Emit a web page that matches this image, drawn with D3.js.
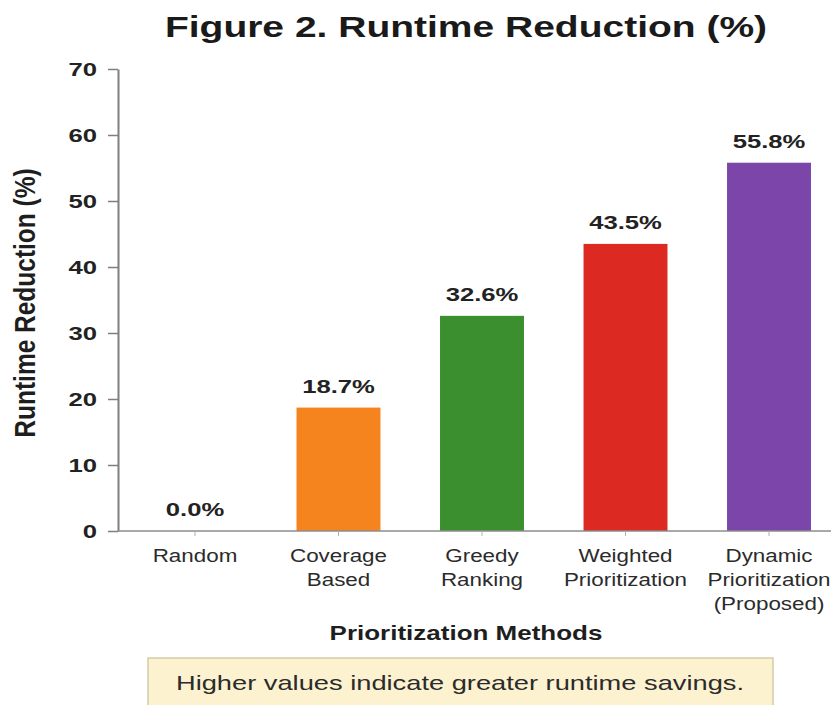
<!DOCTYPE html>
<html>
<head>
<meta charset="utf-8">
<script src="https://cdn.jsdelivr.net/npm/d3@7"></script>
<style>
  html, body { margin: 0; padding: 0; background: #ffffff; }
  svg { display: block; }
</style>
</head>
<body>
<svg id="chart" width="831" height="705"></svg>
<script>
// ---- data ----
const categories = ["Random", "Coverage Based", "Greedy Ranking", "Weighted Prioritization", "Dynamic Prioritization (Proposed)"];
const categoryLines = [["Random"], ["Coverage", "Based"], ["Greedy", "Ranking"], ["Weighted", "Prioritization"], ["Dynamic", "Prioritization", "(Proposed)"]];
const reductionPct = [0.0, 18.7, 32.6, 43.5, 55.8];
const barColors = ["#6fa8dc", "#f5841f", "#3b8f2e", "#dc2a23", "#7b45a9"];
const yTicks = [0, 10, 20, 30, 40, 50, 60, 70];
const titleText = "Figure 2. Runtime Reduction (%)";
const xTitleText = "Prioritization Methods";
const yTitleText = "Runtime Reduction (%)";
const noteText = "Higher values indicate greater runtime savings.";

// ---- layout ----
const W = 831, H = 705;
const SX = 1.35;               // wide lettering used throughout the figure
const FONT = "'Liberation Sans', Arial, Helvetica, sans-serif";
const axisX = 118, baseY = 531, topY = 69;

const svg = d3.select("#chart");

const y = d3.scaleLinear().domain([0, 70]).range([baseY, topY]);
const x = d3.scaleBand().domain(categories).range([axisX, 846])
  .paddingInner(0.415).paddingOuter(0.244);

// text drawn with a horizontal stretch around its anchor
function wideText(parent, px, py, str, opts) {
  return parent.append("text")
    .attr("transform", `translate(${px},${py}) scale(${opts.sx || SX},1)`)
    .attr("text-anchor", opts.anchor || "middle")
    .attr("font-family", FONT)
    .attr("font-size", opts.size)
    .attr("font-weight", opts.weight || "normal")
    .attr("fill", opts.fill || "#222")
    .text(str);
}

// title
wideText(svg, 466, 37, titleText, { size: 30, sx: 1.3, weight: "bold", fill: "#1a1a1a" });

// bars
const data = categories.map((c, i) => ({ c, v: reductionPct[i], color: barColors[i], lines: categoryLines[i] }));

svg.append("g").selectAll("rect").data(data).join("rect")
  .attr("x", d => x(d.c))
  .attr("y", d => y(d.v))
  .attr("width", x.bandwidth())
  .attr("height", d => y(0) - y(d.v))
  .attr("fill", d => d.color);

// value labels above bars
const labels = svg.append("g");
data.forEach(d => {
  wideText(labels, x(d.c) + x.bandwidth() / 2, y(d.v) - 15, d.v.toFixed(1) + "%",
    { size: 19, weight: "bold", fill: "#222" });
});

// y axis
const yAxis = svg.append("g")
  .attr("transform", `translate(${axisX},0)`)
  .call(d3.axisLeft(y).tickValues(yTicks).tickSize(10).tickSizeOuter(0).tickFormat(d3.format("d")));
yAxis.select(".domain").attr("stroke", "#7f7f7f").attr("stroke-width", 2);
yAxis.selectAll(".tick line").attr("stroke", "#7f7f7f").attr("stroke-width", 1.5);
yAxis.selectAll(".tick text")
  .attr("x", 0)
  .attr("dy", "0.35em")
  .attr("transform", `translate(-21,0) scale(${SX},1)`)
  .attr("font-family", FONT)
  .attr("font-size", 19)
  .attr("font-weight", "bold")
  .attr("fill", "#222");

// x axis baseline and small ticks
svg.append("line")
  .attr("x1", axisX).attr("x2", W)
  .attr("y1", baseY).attr("y2", baseY)
  .attr("stroke", "#8c8c8c").attr("stroke-width", 1.6);
svg.append("g").selectAll("line").data(data).join("line")
  .attr("x1", d => x(d.c) + x.bandwidth() / 2)
  .attr("x2", d => x(d.c) + x.bandwidth() / 2)
  .attr("y1", baseY).attr("y2", baseY + 5)
  .attr("stroke", "#b0b0b0").attr("stroke-width", 1);

// category labels (multi-line)
const catG = svg.append("g");
data.forEach(d => {
  d.lines.forEach((ln, k) => {
    wideText(catG, x(d.c) + x.bandwidth() / 2, 562 + k * 24, ln,
      { size: 17.5, sx: 1.28, fill: "#2b2b2b" });
  });
});

// axis titles
wideText(svg, 466, 640, xTitleText, { size: 20, sx: 1.3, weight: "bold", fill: "#1e1e1e" });

svg.append("text")
  .attr("transform", `translate(35,303) rotate(-90) scale(1,1.22)`)
  .attr("text-anchor", "middle")
  .attr("font-family", FONT)
  .attr("font-size", 24.5)
  .attr("font-weight", "bold")
  .attr("fill", "#1e1e1e")
  .text(yTitleText);

// note box
const note = svg.append("g");
note.append("rect")
  .attr("x", 148).attr("y", 658)
  .attr("width", 625).attr("height", 49)
  .attr("fill", "#fcf2d0")
  .attr("stroke", "#d4cba6").attr("stroke-width", 1.5);
wideText(note, 460, 690, noteText, { size: 20.5, sx: 1.33, fill: "#2b2b2b" });
</script>
</body>
</html>
